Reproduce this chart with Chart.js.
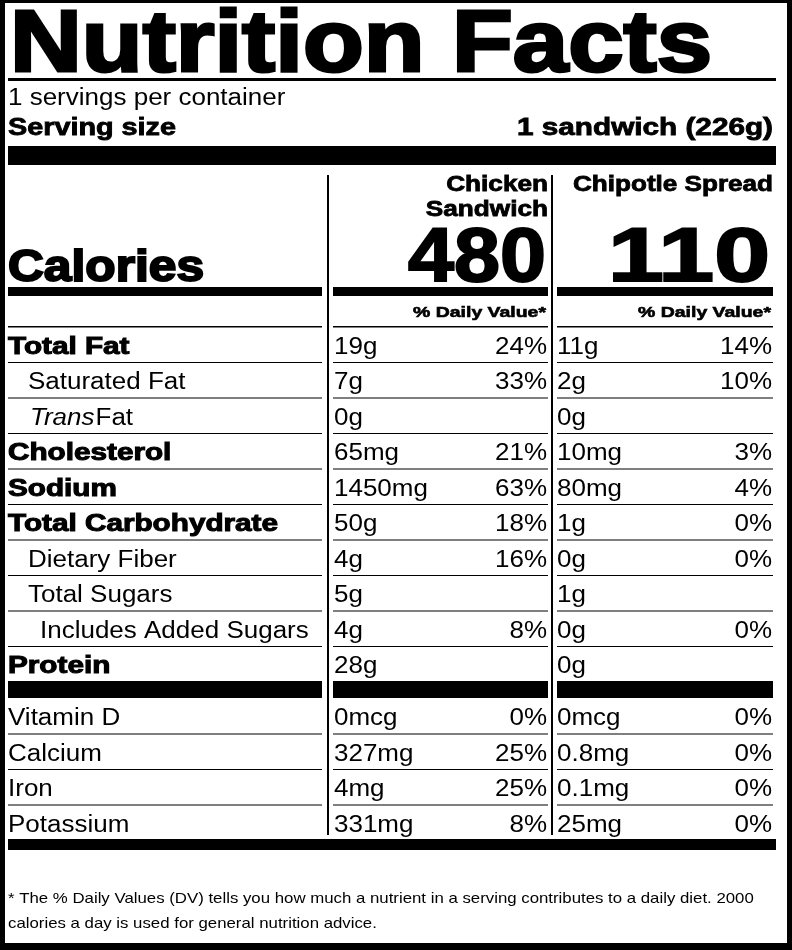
<!DOCTYPE html>
<html><head><meta charset="utf-8">
<script src="https://cdn.jsdelivr.net/npm/chart.js@4"></script>
<style>html,body{margin:0;padding:0;background:#fff}canvas{display:block}</style>
</head><body>
<canvas id="c" width="792" height="950"></canvas>
<script>
const products = ["Chicken Sandwich", "Chipotle Spread"];
const calories = [480, 110];
const nutrients = ["Total Fat","Saturated Fat","Trans Fat","Cholesterol","Sodium","Total Carbohydrate","Dietary Fiber","Total Sugars","Includes Added Sugars","Protein"];
const nutrientIndent = [0,1,1,0,0,0,1,1,2,0];
const nutrientBold = [1,0,0,1,1,1,0,0,0,1];
const chickenAmt = ["19g","7g","0g","65mg","1450mg","50g","4g","5g","4g","28g"];
const chickenDV = ["24%","33%","","21%","63%","18%","16%","","8%",""];
const spreadAmt = ["11g","2g","0g","10mg","80mg","1g","0g","1g","0g","0g"];
const spreadDV = ["14%","10%","","3%","4%","0%","0%","","0%",""];
const vitamins = ["Vitamin D","Calcium","Iron","Potassium"];
const chickenVitAmt = ["0mcg","327mg","4mg","331mg"];
const chickenVitDV = ["0%","25%","25%","8%"];
const spreadVitAmt = ["0mcg","0.8mg","0.1mg","25mg"];
const spreadVitDV = ["0%","0%","0%","0%"];

const F = '"Liberation Sans", Arial, sans-serif';
// sx: horizontal scale; heavy: stroke width for extra-bold look
function txt(ctx, s, x, y, size, weight, align, sx, heavy, italic){
  ctx.save();
  ctx.font = (italic?'italic ':'') + weight + ' ' + size + 'px ' + F;
  ctx.textBaseline = 'alphabetic';
  ctx.translate(x, y);
  ctx.scale(sx || 1, 1);
  ctx.textAlign = align || 'left';
  ctx.fillText(s, 0, 0);
  if(heavy){ ctx.lineWidth = heavy; ctx.strokeStyle = '#000'; ctx.strokeText(s,0,0); }
  ctx.restore();
}
function tw(ctx,s,size,weight,italic){ctx.save();ctx.font=(italic?'italic ':'')+weight+' '+size+'px '+F;const w=ctx.measureText(s).width;ctx.restore();return w;}
function fit(ctx,s,size,weight,target){return target/tw(ctx,s,size,weight);}
function bar(ctx,x1,y1,x2,y2){ctx.fillRect(x1,y1,x2-x1,y2-y1);}

const label = {
  id:'label',
  afterDraw(chart){
    const ctx = chart.ctx;
    ctx.fillStyle = '#000';
    ctx.fillRect(0,0,792,950);
    ctx.fillStyle = '#fff';
    ctx.fillRect(5,3,782,940);
    ctx.fillStyle = '#000';
    txt(ctx,'Nutrition Facts',10,71,88,'bold','left',fit(ctx,'Nutrition Facts',88,'bold',702),3);
    bar(ctx,8,78,776,81);
    const R = 1.13;
    txt(ctx,'1 servings per container',8,105,23,'normal','left',R);
    txt(ctx,'Serving size',8,135,23,'bold','left',fit(ctx,'Serving size',23,'bold',168),0.8);
    txt(ctx,'1 sandwich (226g)',773,135,23,'bold','right',fit(ctx,'1 sandwich (226g)',23,'bold',256),0.8);
    bar(ctx,8,146,776,165);
    bar(ctx,327,175,329,835);
    bar(ctx,551,175,553,835);
    const cols=[[8,322],[333,548],[557,773]];
    const HS = 1.19;
    txt(ctx,'Chicken',548,191,22,'bold','right',HS,0.8);
    txt(ctx,'Sandwich',548,216,22,'bold','right',HS,0.8);
    txt(ctx,'Chipotle Spread',773,191,22,'bold','right',fit(ctx,'Chipotle Spread',22,'bold',200),0.8);
    txt(ctx,'Calories',8,281,44,'bold','left',fit(ctx,'Calories',44,'bold',196),2);
    txt(ctx,String(calories[0]),546,281,76,'bold','right',fit(ctx,String(calories[0]),76,'bold',138),2);
    txt(ctx,String(calories[1]),770,281,76,'bold','right',fit(ctx,String(calories[1]),76,'bold',162),2);
    cols.forEach(c=>bar(ctx,c[0],287,c[1],296));
    const dvS = fit(ctx,'% Daily Value*',15,'bold',133);
    txt(ctx,'% Daily Value*',546,317,15,'bold','right',dvS,0.6);
    txt(ctx,'% Daily Value*',771,317,15,'bold','right',dvS,0.6);
    cols.forEach(c=>bar(ctx,c[0],326,c[1],327.5));
    const rowH = 35.5;
    const BS = fit(ctx,'Total Carbohydrate',23,'bold',270);
    function row(y0, name, ind, bold, a1,d1,a2,d2, isTrans){
      const yb = y0 + 26;
      const x = 8 + [0,20,32][ind];
      if(isTrans){
        txt(ctx,'Trans',x+2,yb,23,'normal','left',R,0,true);
        const w = tw(ctx,'Trans',23,'normal',true)*R;
        txt(ctx,'Fat',x+2+w+1,yb,23,'normal','left',R);
      } else if(bold){
        txt(ctx,name,x,yb,23,'bold','left',BS,1);
      } else txt(ctx,name,x,yb,23,'normal','left',R);
      txt(ctx,a1,334,yb,23,'normal','left',R);
      if(d1) txt(ctx,d1,547,yb,23,'normal','right',R);
      txt(ctx,a2,557,yb,23,'normal','left',R);
      if(d2) txt(ctx,d2,772,yb,23,'normal','right',R);
    }
    let y = 327.5;
    nutrients.forEach((n,i)=>{
      row(y,n,nutrientIndent[i],nutrientBold[i],chickenAmt[i],chickenDV[i],spreadAmt[i],spreadDV[i], n==='Trans Fat');
      y += rowH;
      if(i<nutrients.length-1) cols.forEach(c=>bar(ctx,c[0],y-1,c[1],y));
    });
    cols.forEach(c=>bar(ctx,c[0],681,c[1],698));
    y = 699;
    vitamins.forEach((n,i)=>{
      row(y,n,0,0,chickenVitAmt[i],chickenVitDV[i],spreadVitAmt[i],spreadVitDV[i]);
      y += rowH;
      if(i<vitamins.length-1) cols.forEach(c=>bar(ctx,c[0],y-1,c[1],y));
    });
    bar(ctx,8,839,776,850);
    txt(ctx,'* The % Daily Values (DV) tells you how much a nutrient in a serving contributes to a daily diet. 2000',8,903,15,'normal','left',1.12);
    txt(ctx,'calories a day is used for general nutrition advice.',8,928,15,'normal','left',1.12);
  }
};
new Chart(document.getElementById('c'),{
  type:'bar',
  data:{labels:products,datasets:[{data:calories,backgroundColor:'rgba(0,0,0,0)'}]},
  options:{responsive:false,animation:false,events:[],
    plugins:{legend:{display:false},tooltip:{enabled:false}},
    scales:{x:{display:false},y:{display:false}}},
  plugins:[label]
});
</script>
</body></html>
